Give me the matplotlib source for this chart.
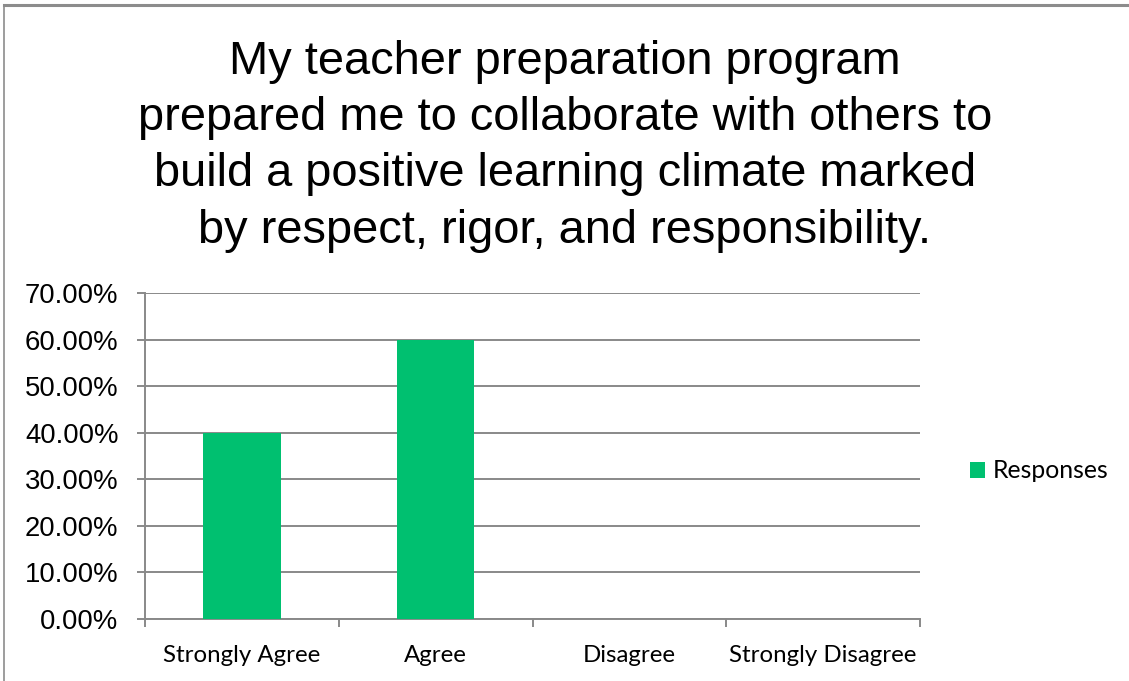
import matplotlib
matplotlib.use("Agg")
import matplotlib.pyplot as plt
from matplotlib.patches import Patch
from matplotlib.lines import Line2D

categories = ["Strongly Agree", "Agree", "Disagree", "Strongly Disagree"]
responses = [0.40, 0.60, 0.0, 0.0]
yticks = [0.0, 0.1, 0.2, 0.3, 0.4, 0.5, 0.6, 0.7]
ytick_labels = ["0.00%", "10.00%", "20.00%", "30.00%", "40.00%", "50.00%", "60.00%", "70.00%"]
series_name = "Responses"
title = ("My teacher preparation program\nprepared me to collaborate with others to\n"
         "build a positive learning climate marked\nby respect, rigor, and responsibility.")

W, H = 1129, 681
fig = plt.figure(figsize=(W / 100, H / 100), dpi=100)
fig.patch.set_facecolor("white")

green = "#00C070"
grid_c = "#898989"

# outer chart border (top and left visible)
fig.add_artist(Line2D([3.5 / W, 1.0], [1 - 5 / H, 1 - 5 / H], transform=fig.transFigure,
                      color="#8c8c8c", lw=2.2))
fig.add_artist(Line2D([3.5 / W, 3.5 / W], [0, 1 - 5 / H], transform=fig.transFigure,
                      color="#8c8c8c", lw=1.2))

ax = fig.add_axes([145 / W, (H - 619) / H, 775 / W, (619 - 293) / H])
x = list(range(len(categories)))
ax.bar(x, responses, width=0.4, color=green, zorder=3)
ax.set_xlim(-0.5, len(categories) - 0.5)
ax.set_ylim(0, 0.7)

ax.set_yticks(yticks)
ax.set_yticklabels(ytick_labels, fontfamily="Liberation Sans", fontsize=19.8)
ax.yaxis.grid(True, color=grid_c, lw=1.4, zorder=1)

ax.set_xticks([i - 0.5 for i in range(len(categories) + 1)])
ax.set_xticklabels([])
ax.set_xticks(x, minor=True)
ax.set_xticklabels(categories, minor=True, fontfamily="Lato", fontsize=17.3)
ax.tick_params(axis="x", which="minor", length=0, pad=19)
ax.tick_params(axis="x", which="major", length=6, width=1.4, color=grid_c)
ax.tick_params(axis="y", length=6, width=1.4, color=grid_c, pad=13)

for s in ["top", "right"]:
    ax.spines[s].set_visible(False)
for s in ["left", "bottom"]:
    ax.spines[s].set_color(grid_c)
    ax.spines[s].set_linewidth(1.4)

fig.text(565 / W, 1 - 40 / H, title, ha="center", va="top", fontfamily="Liberation Sans",
         fontsize=33.8, linespacing=1.36)

handle = Patch(facecolor=green, edgecolor="none")
fig.legend([handle], [series_name], loc="center left", bbox_to_anchor=(948 / W, 1 - 471 / H),
           frameon=False, prop={"family": "Lato", "size": 17.8}, handlelength=0.6,
           handleheight=0.6, handletextpad=0.3)

fig.savefig("out.png", dpi=100)
